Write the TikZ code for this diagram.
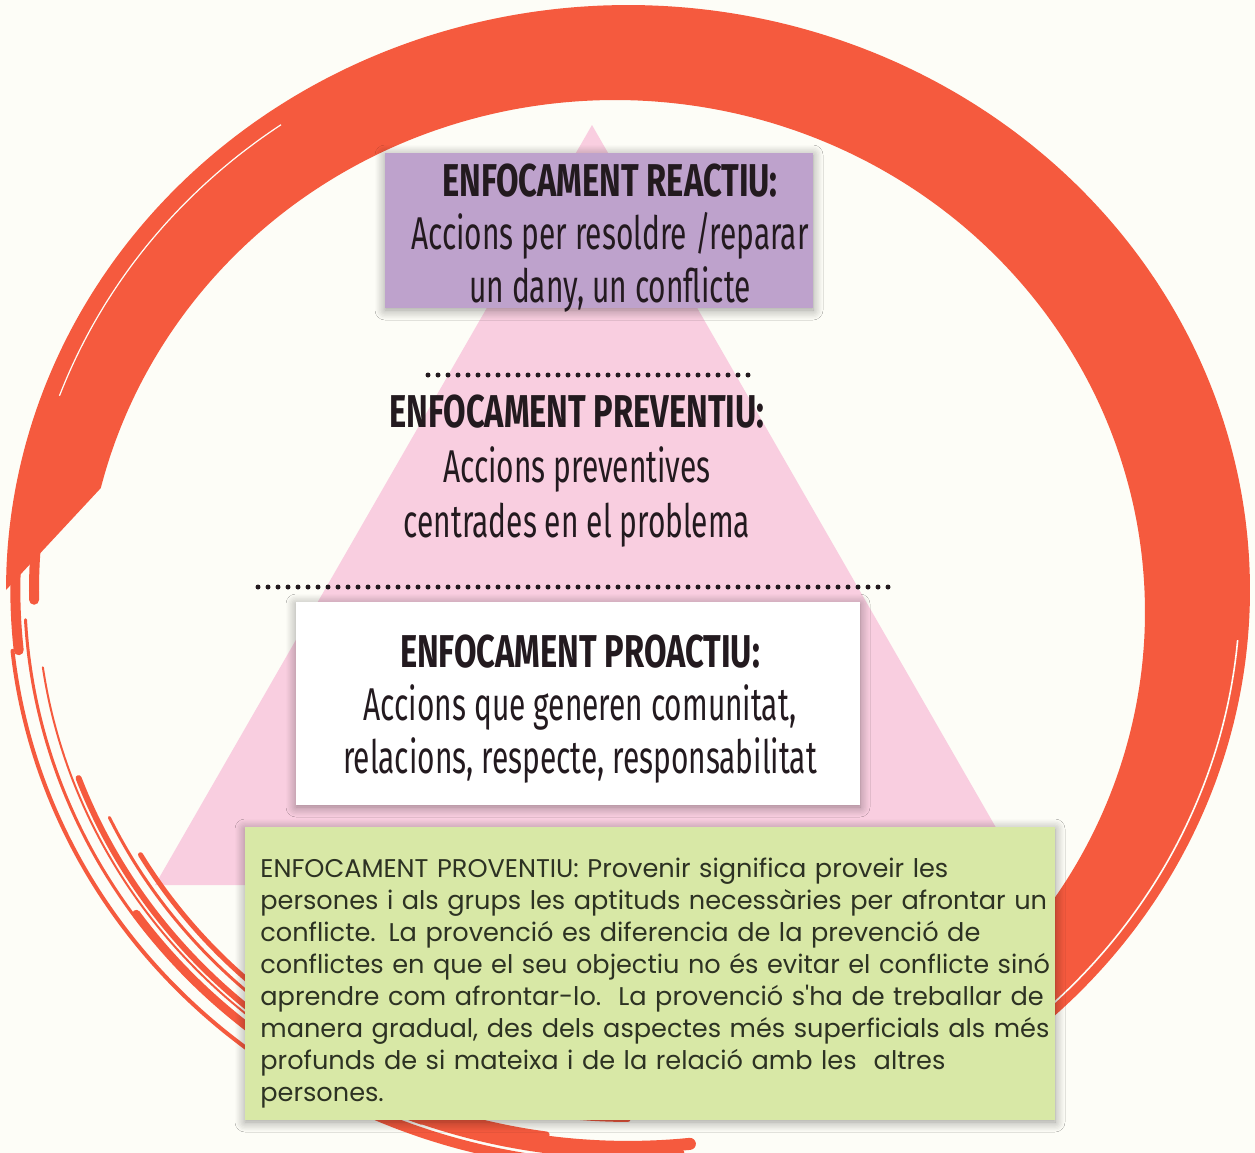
\documentclass[tikz,border=0pt]{standalone}
\usepackage{fontspec}
\setmainfont{Fira Sans}
\newfontfamily\narrowfont[FakeStretch=0.65]{Fira Sans}
\newfontfamily\headfont[FakeStretch=0.71]{Fira Sans}
\newfontfamily\roundfont{Poppins}
\usetikzlibrary{shadows.blur}

\definecolor{paper}{RGB}{253,253,247}
\definecolor{ringred}{RGB}{245,90,62}
\definecolor{pyrpink}{RGB}{249,206,224}
\definecolor{lilac}{RGB}{190,162,204}
\definecolor{lime}{RGB}{216,232,166}
\definecolor{ink}{RGB}{35,26,31}
\definecolor{greenink}{RGB}{45,50,35}

\newcommand{\levelhead}[1]{{\headfont\bfseries #1}}

\tikzset{
  levelbox/.style={rectangle, inner sep=0pt},
  leveltext/.style={inner sep=0pt, align=center, text=ink,
    font=\narrowfont\fontsize{23}{26.5}\selectfont},
  boxshadow/.style={blur shadow={shadow xshift=0pt, shadow yshift=-1pt,
    shadow blur radius=5pt, shadow blur steps=8}},
  dotline/.style={ink, line width=2.5pt, line cap=round, dash pattern=on 0pt off 5pt},
  notetext/.style={inner sep=0pt, text width=430pt, align=left, text=greenink,
    font=\roundfont\fontsize{12.8}{16}\selectfont}
}

\begin{document}
\begin{tikzpicture}[x=0.5pt, y=-0.5pt]
  \useasboundingbox (0,0) rectangle (1255,1153);
  \clip (0,0) rectangle (1255,1153);
  % fons
  \fill[paper] (0,0) rectangle (1255,1153);

  % piramide
  \coordinate (apex) at (592,125);
  \coordinate (baseL) at (155,885);
  \coordinate (baseR) at (1029,885);
  \fill[pyrpink] (apex) -- (baseL) -- (baseR) -- cycle;

  % cercle vermell (pinzellada)
  \fill[ringred] plot[domain=-62:180, samples=120, smooth] ({628+622*cos(\x)},{590-585*sin(\x)})
    -- plot[domain=166:-55, samples=120, smooth] ({615+530*cos(\x)},{612-512*sin(\x)}) -- cycle;
  \foreach \s/\w/\a/\b in {0.985/5/168/186, 0.955/5/163/181, 0.915/4/158/171, 0.995/2/186/240,
      0.97/1.5/183/250, 0.95/1/188/235, 0.94/3/200/262, 0.92/1.5/205/255, 0.905/2.5/210/270,
      0.965/4/215/275, 0.985/5/235/268, 0.952/6/240/276}
    \draw[ringred, line width=\w pt, line cap=round]
      plot[domain=\a:\b, samples=60, smooth] ({628+622*\s*cos(\x)},{590-585*\s*sin(\x)});
  % filets clars dins la pinzellada
  \draw[paper, line width=0.8pt] plot[domain=-50:-5, samples=50, smooth] ({628+612*cos(\x)},{590-575*sin(\x)});
  \draw[paper, line width=0.6pt] plot[domain=125:160, samples=50, smooth] ({628+605*cos(\x)},{590-568*sin(\x)});

  % enfocament reactiu
  \node[levelbox, boxshadow, fill=lilac, minimum width=214pt, minimum height=77.5pt] (reactiubox) at (599,230.5) {};
  \node[leveltext] (reactiu) at (610,238)
    {\levelhead{ENFOCAMENT REACTIU:}\\ Accions per resoldre /reparar\\ un dany, un conflicte};

  % enfocament preventiu
  \coordinate (d1l) at (428,375);
  \coordinate (d1r) at (748,375);
  \draw[dotline] (d1l) -- (d1r);
  \node[leveltext, font=\narrowfont\fontsize{23}{27.5}\selectfont] (preventiu) at (577,471)
    {\levelhead{ENFOCAMENT PREVENTIU:}\\ Accions preventives\\ centrades en el problema};
  \coordinate (d2l) at (258,587);
  \coordinate (d2r) at (893,587);
  \draw[dotline] (d2l) -- (d2r);

  % enfocament proactiu
  \node[levelbox, boxshadow, fill=white, minimum width=282pt, minimum height=101.5pt] (proactiubox) at (578,703.5) {};
  \node[leveltext] (proactiu) at (580,709)
    {\levelhead{ENFOCAMENT PROACTIU:}\\ Accions que generen comunitat,\\ relacions, respecte, responsabilitat};

  % enfocament proventiu
  \node[levelbox, boxshadow, fill=lime, minimum width=405pt, minimum height=146.5pt] (proventiubox) at (650,973.5) {};
  \node[notetext, anchor=west] (proventiu) at (260,983)
    {ENFOCAMENT PROVENTIU: Provenir significa proveir les\\
     persones i als grups les aptituds necessàries per afrontar un\\
     conflicte. La provenció es diferencia de la prevenció de\\
     conflictes en que el seu objectiu no és evitar el conflicte sinó\\
     aprendre com afrontar-lo.\ \ La provenció s'ha de treballar de\\
     manera gradual, des dels aspectes més superficials als més\\
     profunds de si mateixa i de la relació amb les\ \ altres\\
     persones.};
\end{tikzpicture}
\end{document}
